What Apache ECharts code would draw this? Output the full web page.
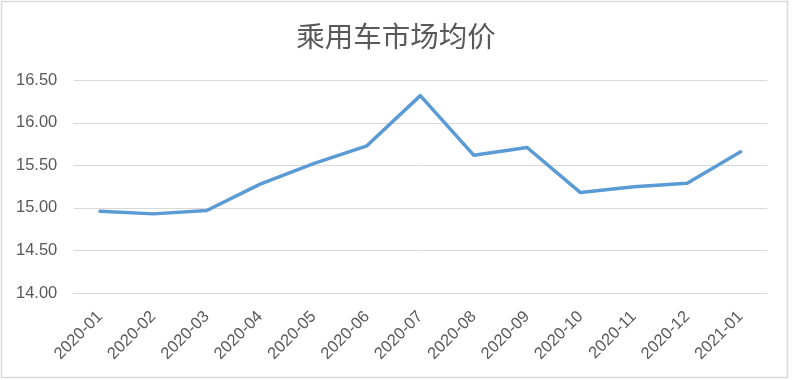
<!DOCTYPE html>
<html>
<head>
<meta charset="utf-8">
<script src="https://cdn.jsdelivr.net/npm/echarts@6/dist/echarts.min.js"></script>
<style>
html,body{margin:0;padding:0;background:#fff;}
#chart{width:792px;height:380px;}
</style>
</head>
<body>
<div id="chart"></div>
<script>
var titleText = '乘用车市场均价';
var categories = ['2020-01','2020-02','2020-03','2020-04','2020-05','2020-06','2020-07','2020-08','2020-09','2020-10','2020-11','2020-12','2021-01'];
var values = [14.96, 14.93, 14.97, 15.28, 15.52, 15.73, 16.32, 15.62, 15.71, 15.18, 15.25, 15.29, 15.66];
var yTicks = [14.00, 14.50, 15.00, 15.50, 16.00, 16.50];

var chart = echarts.init(document.getElementById('chart'), null, {renderer:'canvas'});
chart.setOption({
  backgroundColor: '#ffffff',
  animation: false,
  title: {
    text: titleText,
    left: 'center',
    top: 17,
    textStyle: {color:'#595959', fontSize:28.5, fontWeight:'normal', fontFamily:'"Noto Sans CJK SC", sans-serif'}
  },
  graphic: [{
    type: 'rect',
    shape: {x:1.5, y:1.5, width:786, height:376},
    style: {fill:'none', stroke:'#d9d9d9', lineWidth:1.5},
    silent: true
  }],
  grid: {left:73.3, right:792-767.3, top:80.3, bottom:380-293},
  xAxis: {
    type: 'category',
    data: categories,
    boundaryGap: true,
    axisLine: {show:true, lineStyle:{color:'#d9d9d9', width:1}},
    axisTick: {show:false},
    axisLabel: {rotate:45, interval:0, color:'#595959', fontSize:16.5, fontFamily:'"Liberation Sans", Arial, sans-serif', margin:21}
  },
  yAxis: {
    type: 'value',
    min: yTicks[0],
    max: yTicks[yTicks.length-1],
    interval: 0.5,
    axisLine: {show:false},
    axisTick: {show:false},
    splitLine: {lineStyle:{color:'#d9d9d9', width:1}},
    axisLabel: {color:'#595959', fontSize:16.5, fontFamily:'"Liberation Sans", Arial, sans-serif', margin:16,
      formatter: function(v){ return v.toFixed(2); }}
  },
  series: [{
    type: 'line',
    data: values,
    symbol: 'none',
    lineStyle: {color:'#5b9bd5', width:3.5, cap:'round', join:'round'},
    itemStyle: {color:'#5b9bd5'}
  }]
});
</script>
</body>
</html>
